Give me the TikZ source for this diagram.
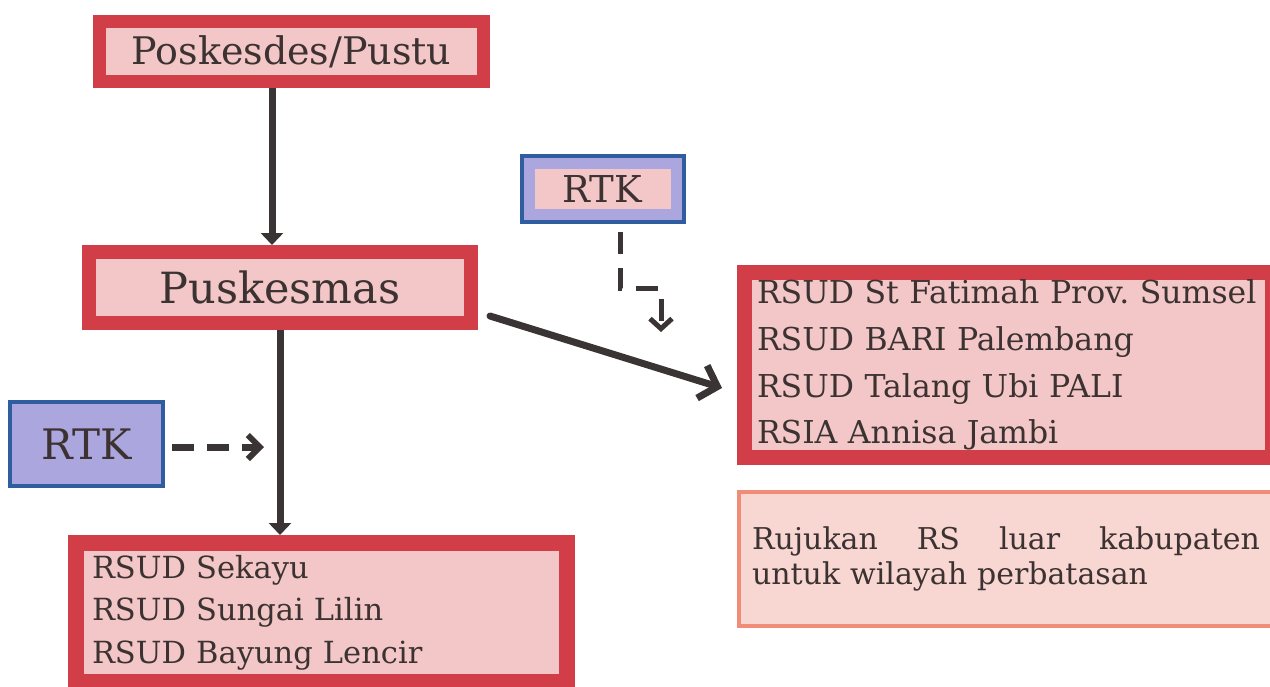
\documentclass[tikz,border=0pt]{standalone}
\usepackage{fontspec}
\setmainfont{DejaVu Serif}
\usetikzlibrary{arrows.meta}
\definecolor{boxred}{RGB}{210,62,72}
\definecolor{boxpink}{RGB}{243,199,199}
\definecolor{lav}{RGB}{172,166,222}
\definecolor{rtkblue}{RGB}{48,92,160}
\definecolor{notered}{RGB}{240,140,120}
\definecolor{notepink}{RGB}{248,214,210}
\definecolor{txt}{RGB}{60,50,50}
\definecolor{arrowcol}{RGB}{58,52,52}
\tikzset{
  redbox/.style={draw=boxred, fill=boxpink, text=txt},
  rtkbox/.style={draw=rtkblue, fill=lav, text=txt, line width=4pt},
  mainarrow/.style={draw=arrowcol, line width=7pt, -{Triangle[width=22pt,length=12pt]}},
  diagarrow/.style={draw=arrowcol, line width=7pt, line cap=round, -{Straight Barb[length=16pt,width=34pt,line width=7pt]}},
  dasharrow/.style={draw=arrowcol, line width=7pt, dash pattern=on 22pt off 13pt, -{Straight Barb[length=12pt,width=24pt,line width=6pt]}},
  dasharrowthin/.style={draw=arrowcol, line width=5pt, dash pattern=on 22pt off 14pt, -{Straight Barb[length=10pt,width=22pt,line width=5pt]}},
}
\frenchspacing
\begin{document}
\begin{tikzpicture}[x=1pt,y=-1pt]
\useasboundingbox[fill=white] (0,0) rectangle (1270,686);

\node[redbox, line width=13pt, minimum width=384pt, minimum height=60pt,
  font=\fontsize{38}{40}\selectfont] (posk) at (291.5,51.5) {Poskesdes/Pustu};
\node[redbox, line width=14pt, minimum width=382pt, minimum height=71pt,
  font=\fontsize{43}{45}\selectfont] (pusk) at (280,287.5) {Puskesmas};
\node[redbox, line width=16pt, minimum height=139pt, inner xsep=16pt, text width=459pt,
  align=left, font=\fontsize{30.5}{42.5}\selectfont] (loc) at (321.5,612.5)
  {RSUD Sekayu\\RSUD Sungai Lilin\\RSUD Bayung Lencir};
\node[redbox, line width=15pt, minimum height=185pt, inner xsep=12.5pt, text width=503pt,
  align=left, font=\fontsize{31.5}{46.7}\selectfont] (rsud) at (1008.5,365)
  {RSUD St Fatimah Prov. Sumsel\\RSUD BARI Palembang\\RSUD Talang Ubi PALI\\RSIA Annisa Jambi};
\node[draw=notered, fill=notepink, text=txt, line width=4pt, minimum height=134pt,
  inner xsep=13pt, text width=508pt, align=left, font=\fontsize{30}{35}\selectfont] (note) at (1006,559)
  {Rujukan\hfill RS\hfill luar\hfill kabupaten\\untuk wilayah perbatasan};

\node[rtkbox, minimum width=153pt, minimum height=84pt,
  font=\fontsize{42}{44}\selectfont] (rtkL) at (86.5,444) {RTK};
\node[draw=lav, fill=boxpink, text=txt, line width=13pt, minimum width=149pt, minimum height=52.5pt,
  font=\fontsize{37}{39}\selectfont, inner sep=0pt] (rtkT) at (602.5,189) {RTK};
\draw[rtkblue, line width=4pt] (rtkT.north west) rectangle (rtkT.south east);

\draw[mainarrow] ([xshift=-19.5pt]posk.south) -- ([xshift=-8pt]pusk.north);
\draw[mainarrow] ([xshift=0pt]pusk.south) -- ([xshift=-41.5pt]loc.north);
\draw[diagarrow] ([xshift=12pt,yshift=-28.5pt]pusk.east) -- ([xshift=-15pt,yshift=-23pt]rsud.west);

\coordinate (hit) at (264,447);
\draw[dasharrow] ([xshift=7pt,yshift=-3pt]rtkL.east) -- (hit);

\coordinate (bend) at (661,288);
\coordinate (tgt) at (661,332);
\draw[dasharrowthin] ([xshift=17.5pt,yshift=-10pt]rtkT.south) |- (bend) -- (tgt);
\end{tikzpicture}
\end{document}
